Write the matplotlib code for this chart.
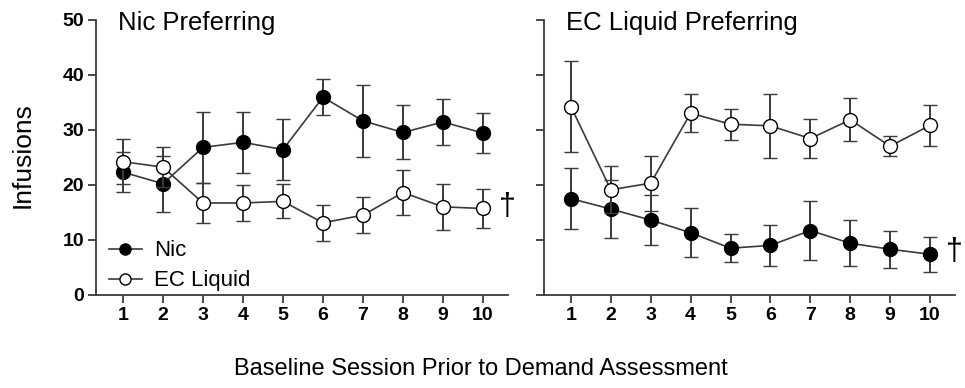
"""
Baseline infusions per session, split by preference group (Nic vs EC liquid).
"""

import numpy as np
import matplotlib
matplotlib.use("Agg")
import matplotlib.pyplot as plt
from matplotlib.lines import Line2D

# --------------------------------------------------------------------------- #
# Data                                        #
# --------------------------------------------------------------------------- #
SESSIONS = [1, 2, 3, 4, 5, 6, 7, 8, 9, 10]

# Nic preferring group
NICPREF_NIC = [22.3, 20.2, 26.8, 27.7, 26.4, 35.9, 31.6, 29.5, 31.4, 29.4]
NICPREF_NIC_SEM = [3.6, 5.1, 6.5, 5.5, 5.5, 3.3, 6.5, 4.9, 4.2, 3.7]
NICPREF_EC = [24.2, 23.2, 16.7, 16.7, 17.0, 13.1, 14.5, 18.6, 16.0, 15.7]
NICPREF_EC_SEM = [4.1, 3.6, 3.6, 3.2, 3.1, 3.3, 3.3, 4.0, 4.2, 3.6]

# EC liquid preferring group
ECPREF_NIC = [17.5, 15.6, 13.6, 11.3, 8.5, 9.0, 11.7, 9.4, 8.3, 7.4]
ECPREF_NIC_SEM = [5.5, 5.3, 4.5, 4.4, 2.5, 3.7, 5.4, 4.2, 3.4, 3.2]
ECPREF_EC = [34.2, 19.1, 20.3, 33.0, 31.0, 30.7, 28.4, 31.8, 27.0, 30.8]
ECPREF_EC_SEM = [8.3, 4.3, 5.0, 3.4, 2.8, 5.8, 3.5, 3.9, 1.8, 3.7]

PANELS = ["Nic Preferring", "EC Liquid Preferring"]
SERIES = ["Nic", "EC Liquid"]
YTICKS = [0, 10, 20, 30, 40, 50]
DAGGER_Y = [16.0, 7.8]

INK = "#3a3a3a"

plt.rcParams["font.family"] = ["Liberation Sans", "DejaVu Sans"]


def draw_group(ax, nic, nic_sem, ec, ec_sem):
    common = dict(color=INK, lw=1.2, elinewidth=1.4, capsize=4.7,
                  capthick=1.4, ms=10, mec="black", mew=1.0)
    ax.errorbar(SESSIONS, nic, yerr=nic_sem, fmt="-o", mfc="black",
                zorder=3, **common)
    ax.errorbar(SESSIONS, ec, yerr=ec_sem, fmt="-o", mfc="white",
                zorder=4, **common)


def style_axis(ax, show_ylabels):
    ax.set_xlim(0.325, 10.625)
    ax.set_ylim(0, 50)
    ax.set_xticks(SESSIONS)
    ax.set_yticks(YTICKS)
    for side in ("top", "right"):
        ax.spines[side].set_visible(False)
    for side in ("left", "bottom"):
        ax.spines[side].set_color(INK)
        ax.spines[side].set_linewidth(1.3)
    ax.tick_params(direction="out", length=5.5, width=1.3, color=INK,
                   labelsize=14, pad=3)
    for lab in ax.get_xticklabels() + ax.get_yticklabels():
        lab.set_fontweight("bold")
    if not show_ylabels:
        ax.set_yticklabels([])


fig = plt.figure(figsize=(9.65, 3.88), dpi=100)
ax1 = fig.add_axes([0.0995, 0.2397, 0.4269, 0.71])
ax2 = fig.add_axes([0.5637, 0.2397, 0.4259, 0.71])

draw_group(ax1, NICPREF_NIC, NICPREF_NIC_SEM, NICPREF_EC, NICPREF_EC_SEM)
draw_group(ax2, ECPREF_NIC, ECPREF_NIC_SEM, ECPREF_EC, ECPREF_EC_SEM)

for k, ax in enumerate((ax1, ax2)):
    style_axis(ax, show_ylabels=(k == 0))
    ax.text(0.053, 0.962, PANELS[k], transform=ax.transAxes, fontsize=18.5,
            va="baseline", ha="left", color="black")
    ax.text(10.6, DAGGER_Y[k], "\u2020", fontsize=22, ha="center",
            va="center", color="black", clip_on=False)

handles = [
    Line2D([], [], color=INK, lw=1.2, marker="o", ms=8, mfc="black",
           mec="black", label=SERIES[0]),
    Line2D([], [], color=INK, lw=1.2, marker="o", ms=8, mfc="white",
           mec="black", label=SERIES[1]),
]
ax1.legend(handles=handles, loc="lower left", bbox_to_anchor=(0.0, -0.035),
           frameon=False, fontsize=16, handlelength=1.45, handletextpad=0.55,
           labelspacing=0.4, borderaxespad=0.2)

fig.text(0.023, 0.60, "Infusions", rotation=90, fontsize=19,
         ha="center", va="center")
fig.text(0.498, 0.049, "Baseline Session Prior to Demand Assessment",
         fontsize=17, ha="center", va="center")

fig.savefig("out.png", dpi=100)
